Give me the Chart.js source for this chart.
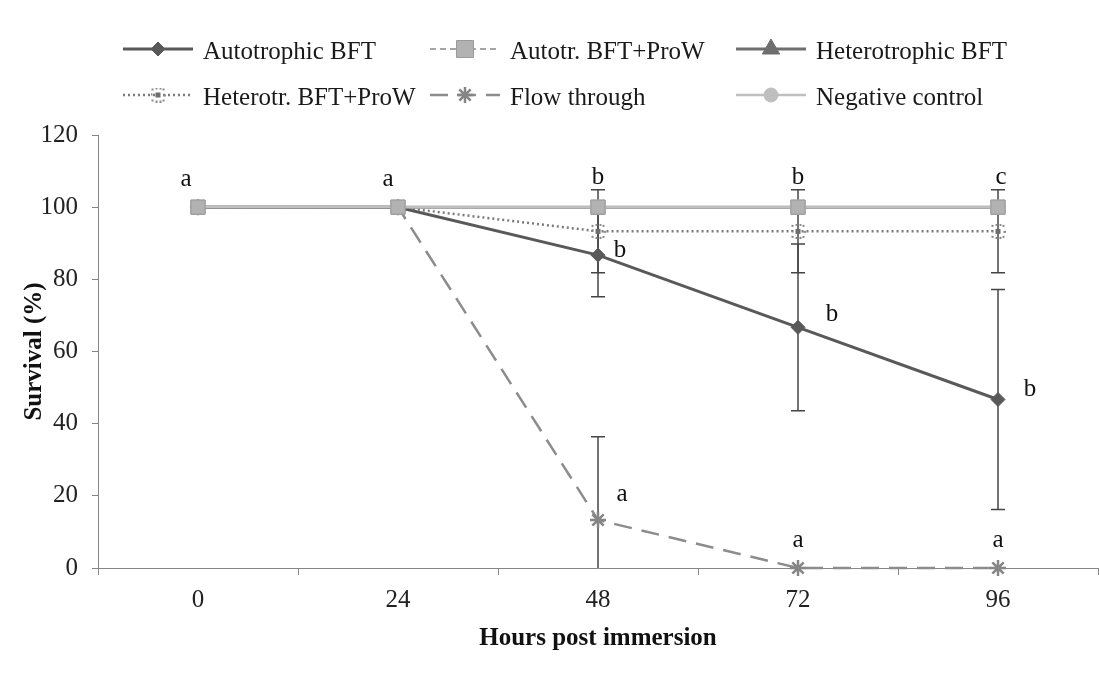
<!DOCTYPE html>
<html>
<head>
<meta charset="utf-8">
<title>Survival</title>
<script src="https://cdn.jsdelivr.net/npm/chart.js@4.4.1/dist/chart.umd.min.js"></script>
<style>
  html, body { margin: 0; padding: 0; background: #fff; }
  #wrap { width: 1099px; height: 684px; }
</style>
</head>
<body>
<div id="wrap"><canvas id="chart" width="1099" height="684"></canvas></div>
<script>
// ====================
// Datos
// ====================
const hours = ["0", "24", "48", "72", "96"];

const autotrophic = [100, 100, 86.7, 66.7, 46.7];
const autotrophicSd = [0, 0, 11.5, 23.1, 30.5];
const autotrProW = [100, 100, 100, 100, 100];
const heterotrophic = [100, 100, 100, 100, 100];
const heterotrProW = [100, 100, 93.3, 93.3, 93.3];
const heterotrProWSd = [0, 0, 11.5, 11.5, 11.5];
const flowThrough = [100, 100, 13.3, 0, 0];
const flowThroughSd = [0, 0, 23.1, 0, 0];
const negControl = [100, 100, 100, 100, 100];

// letras de significancia (Tukey)
const topLetters = ["a", "a", "b", "b", "c"];
const autoLetters = ["", "", "b", "b", "b"];
const flowLetters = ["", "", "a", "a", "a"];

const SERIF = "'Liberation Serif', 'Times New Roman', serif";

// marcador punteado para Heterotr. BFT+ProW
function dottedMarker() {
    const c = document.createElement("canvas");
    c.width = 15; c.height = 15;
    const g = c.getContext("2d");
    g.fillStyle = "#6e6e6e";
    g.fillRect(5, 5, 5, 5);
    g.fillStyle = "#8a8a8a";
    [[1, 1], [5, 0], [9, 0], [12, 1], [0, 6], [13, 7], [1, 12], [5, 13], [9, 13], [12, 12]]
        .forEach(([x, y]) => g.fillRect(x, y, 2, 2));
    return c;
}

// ====================
// Plugins
// ====================
const errorBars = {
    id: "errorBars",
    beforeDatasetsDraw(chart) {
        const { ctx, chartArea: a, scales: { x, y } } = chart;
        ctx.save();
        ctx.beginPath();
        ctx.rect(a.left, a.top - 2, a.right - a.left, a.bottom - a.top + 2);
        ctx.clip();
        ctx.strokeStyle = "#454545";
        ctx.lineWidth = 1.5;
        chart.data.datasets.forEach((ds) => {
            if (!ds.errorBars) return;
            ds.data.forEach((v, j) => {
                const sd = ds.errorBars[j];
                if (!sd) return;
                const px = x.getPixelForValue(j);
                const hi = v + sd, lo = v - sd;
                const yHi = y.getPixelForValue(hi), yLo = y.getPixelForValue(lo);
                ctx.beginPath();
                ctx.moveTo(px, yHi); ctx.lineTo(px, yLo);
                [[hi, yHi], [lo, yLo]].forEach(([val, py]) => {
                    if (val < y.min || val > y.max) return;
                    ctx.moveTo(px - 7, py); ctx.lineTo(px + 7, py);
                });
                ctx.stroke();
            });
        });
        ctx.restore();
    }
};

// vuelve a pintar los cuadrados encima del resto
const squaresOnTop = {
    id: "squaresOnTop",
    afterDatasetsDraw(chart) {
        chart.data.datasets.forEach((ds, i) => {
            if (!ds.pointsOnTop) return;
            chart.getDatasetMeta(i).data.forEach(p => p.draw(chart.ctx, chart.chartArea));
        });
    }
};

const letters = {
    id: "letters",
    afterDatasetsDraw(chart, args, opts) {
        const { ctx, scales: { x, y } } = chart;
        ctx.save();
        ctx.font = `25px ${SERIF}`;
        ctx.fillStyle = "#111";
        ctx.textAlign = "center";
        ctx.textBaseline = "alphabetic";
        opts.groups.forEach(gr => {
            gr.text.forEach((t, j) => {
                if (!t) return;
                const px = x.getPixelForValue(j) + gr.dx[j];
                const py = y.getPixelForValue(gr.values[j]) + gr.dy[j];
                ctx.fillText(t, px, py);
            });
        });
        ctx.restore();
    }
};

const sideLegend = {
    id: "sideLegend",
    afterDraw(chart, args, opts) {
        const { ctx } = chart;
        const dsets = chart.data.datasets;
        ctx.save();
        dsets.forEach((ds, i) => {
            const col = i % 3, row = Math.floor(i / 3);
            const x0 = opts.cols[col], yy = opts.rows[row];
            // linea de muestra
            ctx.beginPath();
            ctx.setLineDash(ds.borderDash || []);
            ctx.lineWidth = ds.borderWidth;
            ctx.strokeStyle = ds.borderColor;
            ctx.moveTo(x0, yy); ctx.lineTo(x0 + opts.sample, yy);
            ctx.stroke();
            ctx.setLineDash([]);
            // marcador
            ctx.fillStyle = ds.pointBackgroundColor;
            ctx.strokeStyle = ds.pointBorderColor;
            ctx.lineWidth = ds.pointBorderWidth;
            Chart.helpers.drawPoint(ctx, {
                pointStyle: ds.pointStyle,
                radius: ds.legendRadius || ds.pointRadius,
                borderWidth: ds.pointBorderWidth,
                rotation: 0
            }, x0 + opts.sample / 2, yy);
            // texto
            ctx.font = `25px ${SERIF}`;
            ctx.fillStyle = "#1a1a1a";
            ctx.textAlign = "left";
            ctx.textBaseline = "alphabetic";
            ctx.fillText(ds.label, x0 + opts.sample + 10, yy + 10);
        });
        ctx.restore();
    }
};

// ====================
// Grafico
// ====================
const datasets = [
    {
        label: "Autotrophic BFT", data: autotrophic, errorBars: autotrophicSd, order: 1,
        borderColor: "#595959", borderWidth: 3,
        pointStyle: "rectRot", pointRadius: 7, pointBackgroundColor: "#595959",
        pointBorderColor: "#595959", pointBorderWidth: 1
    },
    {
        label: "Autotr. BFT+ProW", data: autotrProW, order: 3, pointsOnTop: true,
        borderColor: "#a6a6a6", borderWidth: 2, borderDash: [6, 4],
        pointStyle: "rect", pointRadius: 10, legendRadius: 12, pointBackgroundColor: "#b2b2b2",
        pointBorderColor: "#9a9a9a", pointBorderWidth: 1
    },
    {
        label: "Heterotrophic BFT", data: heterotrophic, order: 5,
        borderColor: "#6e6e6e", borderWidth: 3,
        pointStyle: "triangle", pointRadius: 7, legendRadius: 10, pointBackgroundColor: "#6e6e6e",
        pointBorderColor: "#6e6e6e", pointBorderWidth: 1
    },
    {
        label: "Heterotr. BFT+ProW", data: heterotrProW, errorBars: heterotrProWSd, order: 2,
        borderColor: "#7a7a7a", borderWidth: 2.5, borderDash: [2, 3],
        pointStyle: dottedMarker(), pointRadius: 7, pointBackgroundColor: "#777",
        pointBorderColor: "#777", pointBorderWidth: 0
    },
    {
        label: "Flow through", data: flowThrough, errorBars: flowThroughSd, order: 4,
        borderColor: "#8c8c8c", borderWidth: 2.5, borderDash: [18, 10],
        pointStyle: "star", pointRadius: 8, pointBackgroundColor: "#8c8c8c",
        pointBorderColor: "#858585", pointBorderWidth: 2.5
    },
    {
        label: "Negative control", data: negControl, order: 0,
        borderColor: "#bfbfbf", borderWidth: 2.5,
        pointStyle: "circle", pointRadius: 7, pointBackgroundColor: "#bfbfbf",
        pointBorderColor: "#bfbfbf", pointBorderWidth: 1
    }
];
// sin recorte: los asteriscos sobre el eje se ven completos
datasets.forEach(d => { d.clip = false; });

const axisColor = "#868686";

new Chart(document.getElementById("chart"), {
    type: "line",
    data: { labels: hours, datasets },
    options: {
        responsive: false,
        animation: false,
        devicePixelRatio: 1,
        layout: { autoPadding: false, padding: { top: 135, right: 1, left: 0, bottom: 0 } },
        elements: { line: { tension: 0, fill: false } },
        scales: {
            x: {
                type: "category",
                offset: true,
                afterFit: (s) => { s.height = 116; s.paddingLeft = 0; s.paddingRight = 0; },
                grid: { offset: true, drawOnChartArea: false, tickLength: 7, color: axisColor },
                border: { color: axisColor, width: 1 },
                ticks: { color: "#222", padding: 10, font: { family: SERIF, size: 25 } },
                title: {
                    display: true, text: "Hours post immersion", color: "#111",
                    padding: { top: 0, bottom: 30 },
                    font: { family: SERIF, size: 25, weight: "bold" }
                }
            },
            y: {
                min: 0, max: 120,
                afterFit: (s) => { s.width = 98; },
                grid: { drawOnChartArea: false, tickLength: 6, color: axisColor },
                border: { color: axisColor, width: 1 },
                ticks: { stepSize: 20, color: "#222", padding: 14, font: { family: SERIF, size: 25 } },
                title: {
                    display: true, text: "Survival (%)", color: "#111",
                    padding: { top: 20, bottom: 0 },
                    font: { family: SERIF, size: 25, weight: "bold" }
                }
            }
        },
        plugins: {
            legend: { display: false },
            tooltip: { enabled: false },
            letters: {
                groups: [
                    { text: topLetters, values: negControl, dx: [-12, -10, 0, 0, 3], dy: [-21, -21, -23, -23, -23] },
                    { text: autoLetters, values: autotrophic, dx: [0, 0, 22, 34, 32], dy: [0, 0, 2, -6, -3] },
                    { text: flowLetters, values: flowThrough, dx: [0, 0, 24, 0, 0], dy: [0, 0, -19, -21, -21] }
                ]
            },
            sideLegend: { cols: [123, 430, 736], rows: [49, 95], sample: 70 }
        }
    },
    plugins: [errorBars, squaresOnTop, letters, sideLegend]
});
</script>
</body>
</html>
